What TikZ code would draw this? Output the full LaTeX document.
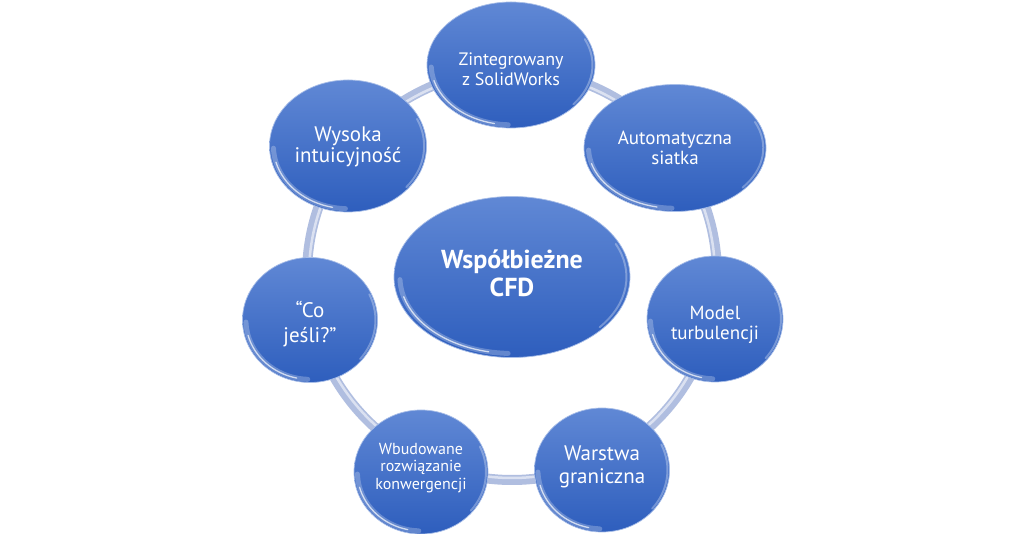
\documentclass[tikz,border=0pt]{standalone}
\usepackage{fontspec}
\setmainfont{PT Sans}
\usetikzlibrary{shapes.geometric,calc}
\definecolor{bubbletop}{RGB}{96,136,213}
\definecolor{bubblebot}{RGB}{46,94,189}
\definecolor{ringcol}{RGB}{176,190,224}

\begin{document}
\begin{tikzpicture}[x=1pt,y=1pt,
        glint/.style={white,line cap=round},
        txt/.style={text=white,align=center,inner sep=0pt},
        bubble/.style={ellipse,inner sep=0pt,top color=bubbletop,bottom color=bubblebot,
            draw=bubbletop!55!white,line width=0.7pt,
            path picture={
                \draw[glint,opacity=0.25,line width=5pt] let \p1=($(path picture bounding box.north east)-(path picture bounding box.center)$) in
                    ($(path picture bounding box.center)+(182:{0.95*\x1} and {0.95*\y1})$) arc[start angle=182,end angle=268,x radius=0.95*\x1,y radius=0.95*\y1];
                \draw[glint,opacity=0.7,line width=1.3pt] let \p1=($(path picture bounding box.north east)-(path picture bounding box.center)$) in
                    ($(path picture bounding box.center)+(195:{0.95*\x1} and {0.95*\y1})$) arc[start angle=195,end angle=258,x radius=0.95*\x1,y radius=0.95*\y1];
                \draw[glint,opacity=0.3,line width=2pt] let \p1=($(path picture bounding box.north east)-(path picture bounding box.center)$) in
                    ($(path picture bounding box.center)+(-40:{0.97*\x1} and {0.97*\y1})$) arc[start angle=-40,end angle=25,x radius=0.97*\x1,y radius=0.97*\y1];
            }},
        ring/.style={ringcol,line width=10pt}]
\useasboundingbox[fill=white] (0,0) rectangle (1024,534);
\coordinate (hub) at (512,259);
\draw[ring] (hub) circle[radius=205pt];
\draw[white,opacity=0.55,line width=2.5pt] (hub) circle[radius=203pt];
\node[bubble,minimum width=236pt,minimum height=161pt,
    label={[txt,yshift=4pt,font=\fontsize{26}{28}\selectfont\bfseries]center:{Współbieżne\\CFD}}] (cfd) at (512,257) {};
\node[bubble,minimum width=168pt,minimum height=126pt,
    label={[txt,yshift=-4pt,font=\fontsize{18}{20}\selectfont]center:{Zintegrowany\\z SolidWorks}}] (solid) at (511,469) {};
\node[bubble,minimum width=182pt,minimum height=127pt,
    label={[txt,font=\fontsize{19}{19.5}\selectfont]center:{Automatyczna\\siatka}}] (auto) at (675,386) {};
\node[bubble,minimum width=136pt,minimum height=126pt,
    label={[txt,yshift=-6pt,font=\fontsize{19}{20}\selectfont]center:{Model\\turbulencji}}] (model) at (715,215) {};
\node[bubble,minimum width=135pt,minimum height=124pt,
    label={[txt,yshift=3pt,font=\fontsize{21}{23}\selectfont]center:{Warstwa\\graniczna}}] (layer) at (602,64) {};
\node[bubble,minimum width=134pt,minimum height=124pt,
    label={[txt,yshift=4pt,font=\fontsize{16}{17.5}\selectfont]center:{Wbudowane\\rozwiązanie\\konwergencji}}] (conv) at (421,62) {};
\node[bubble,minimum width=135pt,minimum height=125pt,
    label={[txt,yshift=-4pt,font=\fontsize{21}{25}\selectfont]center:{“Co\\jeśli?”}}] (whatif) at (310,214) {};
\node[bubble,minimum width=157pt,minimum height=132pt,
    label={[txt,yshift=-1pt,font=\fontsize{21}{21}\selectfont]center:{Wysoka\\intuicyjność}}] (intu) at (348,388) {};
\end{tikzpicture}
\end{document}
